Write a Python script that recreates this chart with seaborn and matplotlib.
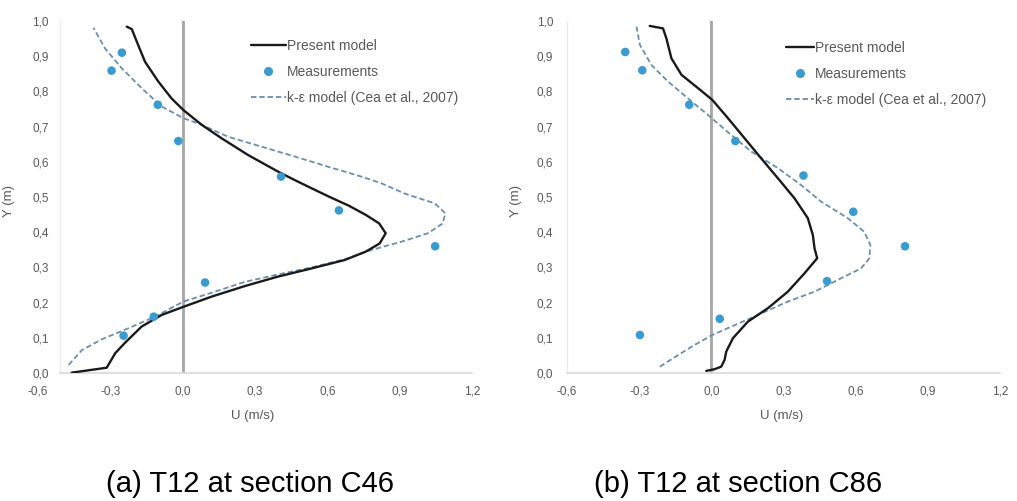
import matplotlib
matplotlib.use("Agg")
import matplotlib.pyplot as plt
import seaborn as sns
import pandas as pd
from matplotlib.lines import Line2D

# ---- measured velocity profiles (depth y in m, velocity U in m/s) ----
y_meas_c46 = [0.910, 0.859, 0.762, 0.659, 0.558, 0.462, 0.360, 0.257, 0.160, 0.106]
u_meas_c46 = [-0.252, -0.295, -0.103, -0.018, 0.408, 0.648, 1.047, 0.093, -0.120, -0.245]

y_meas_c86 = [0.912, 0.860, 0.762, 0.659, 0.561, 0.458, 0.360, 0.261, 0.154, 0.108]
u_meas_c86 = [-0.358, -0.287, -0.092, 0.100, 0.383, 0.590, 0.805, 0.481, 0.035, -0.297]

# ---- present model, section C46 ----
y_present_c46 = [0.001, 0.015, 0.056, 0.086, 0.132, 0.165, 0.188, 0.217, 0.247, 0.274, 0.297,
                 0.321, 0.345, 0.368, 0.397, 0.425, 0.449, 0.475, 0.500, 0.525, 0.548,
                 0.572, 0.619, 0.667, 0.705, 0.747, 0.780, 0.828, 0.884, 0.941, 0.977, 0.984]
u_present_c46 = [-0.460, -0.315, -0.280, -0.239, -0.170, -0.087, 0.003, 0.120, 0.258, 0.396, 0.534,
                 0.672, 0.760, 0.817, 0.842, 0.815, 0.760, 0.690, 0.610, 0.534, 0.465,
                 0.396, 0.272, 0.161, 0.079, 0.003, -0.046, -0.101, -0.156, -0.190, -0.211, -0.232]

# ---- k-epsilon model (Cea et al., 2007), section C46 ----
y_keps_c46 = [0.023, 0.065, 0.096, 0.127, 0.160, 0.203, 0.228, 0.259, 0.280, 0.300, 0.323,
              0.349, 0.373, 0.397, 0.425, 0.454, 0.482, 0.510, 0.539, 0.558, 0.586,
              0.615, 0.643, 0.671, 0.705, 0.724, 0.757, 0.809, 0.866, 0.922, 0.981]
u_keps_c46 = [-0.473, -0.418, -0.335, -0.225, -0.115, 0.003, 0.120, 0.258, 0.396, 0.534, 0.672,
              0.780, 0.907, 1.017, 1.079, 1.089, 1.045, 0.920, 0.824, 0.741, 0.603,
              0.465, 0.327, 0.189, 0.079, 0.003, -0.087, -0.170, -0.253, -0.322, -0.370]

# ---- present model, section C86 ----
y_present_c86 = [0.006, 0.011, 0.018, 0.037, 0.061, 0.099, 0.146, 0.184, 0.231, 0.283, 0.326,
                 0.354, 0.392, 0.440, 0.496, 0.553, 0.610, 0.667, 0.724, 0.776, 0.809,
                 0.847, 0.894, 0.951, 0.979, 0.986]
u_present_c86 = [-0.021, 0.014, 0.041, 0.055, 0.062, 0.090, 0.152, 0.235, 0.318, 0.387, 0.440,
                 0.429, 0.422, 0.401, 0.346, 0.277, 0.207, 0.138, 0.069, 0.004, -0.055,
                 -0.124, -0.166, -0.187, -0.201, -0.256]

# ---- k-epsilon model (Cea et al., 2007), section C86 ----
y_keps_c86 = [0.018, 0.051, 0.080, 0.108, 0.136, 0.165, 0.203, 0.231, 0.269, 0.297, 0.326,
              0.364, 0.401, 0.440, 0.487, 0.534, 0.582, 0.629, 0.676, 0.733, 0.780,
              0.828, 0.875, 0.932, 0.984]
u_keps_c86 = [-0.214, -0.138, -0.069, 0.004, 0.097, 0.194, 0.318, 0.429, 0.539, 0.622, 0.657,
              0.661, 0.636, 0.567, 0.456, 0.373, 0.277, 0.166, 0.083, -0.014, -0.097,
              -0.180, -0.249, -0.297, -0.311]

x_ticks = [-0.6, -0.3, 0.0, 0.3, 0.6, 0.9, 1.2]
y_ticks = [0.0, 0.1, 0.2, 0.3, 0.4, 0.5, 0.6, 0.7, 0.8, 0.9, 1.0]
legend_labels = ["Present model", "Measurements", "k-\u03b5 model (Cea et al., 2007)"]
captions = ["(a) T12 at section C46", "(b) T12 at section C86"]

sns.set_theme(style="white")
plt.rcParams["font.family"] = ["Liberation Sans", "DejaVu Sans"]

C_PRESENT = "#1a1a1a"
C_MEAS = "#3a9bd0"
C_KEPS = "#6a8fae"
C_TEXT = "#595959"
DASH = (0, (3, 1.6))

fig = plt.figure(figsize=(10.17, 5.01), dpi=100)
W, H = 1017, 501


def px_axes(x0, x1, ytop, ybot):
    return fig.add_axes([x0 / W, 1 - ybot / H, (x1 - x0) / W, (ybot - ytop) / H])


panels = [
    dict(ax=px_axes(38, 472, 21, 373), left=-0.51,
         yp=y_present_c46, up=u_present_c46, yk=y_keps_c46, uk=u_keps_c46,
         ym=y_meas_c46, um=u_meas_c46, ylab_x=-0.053, ypad=8,
         leg=(251 / W, 1 - 39 / H), hlen=2.5),
    dict(ax=px_axes(567, 1000, 21, 373), left=-0.6,
         yp=y_present_c86, up=u_present_c86, yk=y_keps_c86, uk=u_keps_c86,
         ym=y_meas_c86, um=u_meas_c86, ylab_x=-0.104, ypad=10,
         leg=(786 / W, 1 - 41 / H), hlen=2.0),
]

for p in panels:
    ax = p["ax"]
    # zero-velocity reference line
    ax.axvline(0.0, ymin=0, ymax=1, color="#a6a6a6", lw=2.0, zorder=1)

    df_p = pd.DataFrame({"U": p["up"], "Y": p["yp"]})
    df_k = pd.DataFrame({"U": p["uk"], "Y": p["yk"]})
    df_m = pd.DataFrame({"U": p["um"], "Y": p["ym"]})

    sns.lineplot(data=df_k, x="U", y="Y", sort=False, estimator=None, ax=ax,
                 color=C_KEPS, lw=1.3, linestyle=DASH, zorder=3)
    sns.lineplot(data=df_p, x="U", y="Y", sort=False, estimator=None, ax=ax,
                 color=C_PRESENT, lw=1.7, zorder=4, solid_joinstyle="round")
    sns.scatterplot(data=df_m, x="U", y="Y", ax=ax, color=C_MEAS, s=38,
                    edgecolor="none", zorder=5)

    ax.set_xlim(-0.6, 1.2)
    ax.set_ylim(0.0, 1.0)
    ax.set_xticks(x_ticks)
    ax.set_yticks(y_ticks)
    ax.set_xticklabels([f"{v:.1f}".replace(".", ",") for v in x_ticks])
    ax.set_yticklabels([f"{v:.1f}".replace(".", ",") for v in y_ticks])
    ax.tick_params(axis="both", length=0, labelsize=8.5, labelcolor=C_TEXT)
    ax.tick_params(axis="x", pad=9)
    ax.tick_params(axis="y", pad=p["ypad"])

    for s in ["top", "right"]:
        ax.spines[s].set_visible(False)
    ax.spines["bottom"].set_color("#d9d9d9")
    ax.spines["bottom"].set_linewidth(1.2)
    ax.spines["bottom"].set_bounds(p["left"], 1.2)
    ax.spines["left"].set_color("#ececec")
    ax.spines["left"].set_linewidth(1.0)
    ax.spines["left"].set_position(("data", p["left"]))
    ax.grid(False)
    ax.set_facecolor("none")

    ax.set_xlabel("U (m/s)", fontsize=9.5, color=C_TEXT)
    ax.set_ylabel("Y (m)", fontsize=9.5, color=C_TEXT)
    ax.xaxis.set_label_coords(0.495, -0.105)
    ax.yaxis.set_label_coords(p["ylab_x"], 0.49)

    handles = [
        Line2D([], [], color=C_PRESENT, lw=1.7),
        Line2D([], [], color=C_MEAS, marker="o", ms=5.5, lw=0),
        Line2D([], [], color=C_KEPS, lw=1.3, linestyle=DASH),
    ]
    leg = ax.legend(handles, legend_labels, loc="upper left",
                    bbox_to_anchor=p["leg"], bbox_transform=fig.transFigure,
                    frameon=False, fontsize=10, handlelength=p["hlen"],
                    handletextpad=0.1, labelspacing=0.85, borderaxespad=0,
                    borderpad=0)
    for t in leg.get_texts():
        t.set_color(C_TEXT)

# panel captions
fig.text(250 / W, 1 - 484 / H, captions[0], ha="center", va="center",
         fontsize=21, color="black")
fig.text(738 / W, 1 - 484 / H, captions[1], ha="center", va="center",
         fontsize=21, color="black")

fig.savefig("out.png", dpi=100, facecolor="white")
